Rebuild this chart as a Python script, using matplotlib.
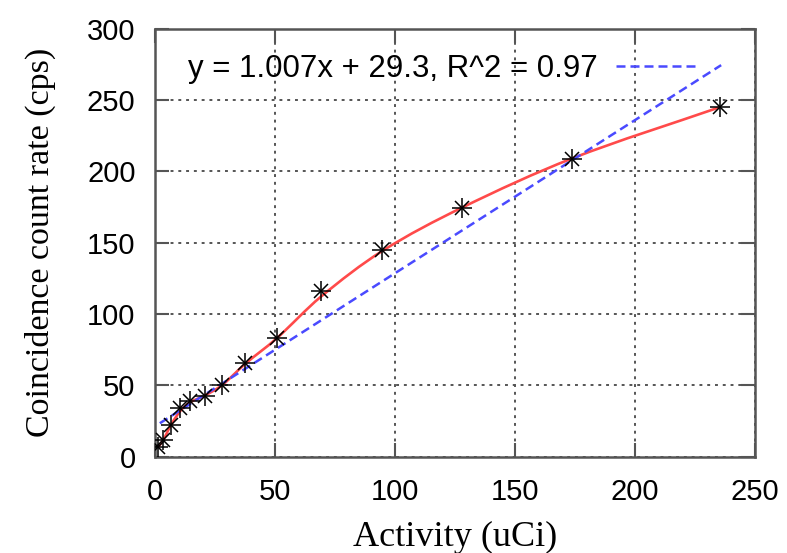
import matplotlib
matplotlib.use("Agg")
import numpy as np
import matplotlib.pyplot as plt
from matplotlib.path import Path
from matplotlib.patches import PathPatch

activity = [1.4, 3.5, 6.7, 10.5, 14.5, 20.8, 28, 37.5, 50.7, 69, 94.5, 127.8, 173.7, 235.4]
count_rate = [7, 12, 22.5, 34, 38.8, 42.5, 50.3, 66, 83, 116.5, 145, 174.5, 209, 245]

# red trend curve, knots (it runs a bit under the 69 point)
curve_x = [1.4, 3.5, 6.7, 10.5, 14.5, 20.8, 28, 37.5, 50.7, 69, 94.5, 127.8, 173.7, 235.4]
curve_y = [7, 12, 22.5, 32, 38, 43, 50.3, 65, 83, 112, 144, 174.5, 209, 245]

# linear fit line, endpoints as drawn
fit_x = [2, 236]
fit_y = [23.5, 274.5]
fit_label = "y = 1.007x + 29.3, R^2 = 0.97"

xticks = [0, 50, 100, 150, 200, 250]
yticks = [0, 50, 100, 150, 200, 250, 300]


def smooth_path(xs, ys):
    # cubic hermite in x through the knots, drawn as bezier segments
    x = np.asarray(xs, float)
    y = np.asarray(ys, float)
    n = len(x)
    m = np.empty(n)
    m[1:-1] = (y[2:] - y[:-2]) / (x[2:] - x[:-2])
    m[0] = (y[1] - y[0]) / (x[1] - x[0])
    m[-1] = (y[-1] - y[-2]) / (x[-1] - x[-2])
    verts = [(x[0], y[0])]
    codes = [Path.MOVETO]
    for i in range(n - 1):
        h = (x[i + 1] - x[i]) / 3
        verts += [(x[i] + h, y[i] + m[i] * h),
                  (x[i + 1] - h, y[i + 1] - m[i + 1] * h),
                  (x[i + 1], y[i + 1])]
        codes += [Path.CURVE4] * 3
    return Path(verts, codes)


fig = plt.figure(figsize=(7.87, 5.53), dpi=100)
ax = fig.add_axes([0.197, 0.174, 0.762, 0.774])

ax.add_patch(PathPatch(smooth_path(curve_x, curve_y), fill=False,
                       ec="#ff4a4a", lw=1.9, zorder=3))
ax.plot(fit_x, fit_y, color="#4a4aff", lw=1.8, dashes=(3.6, 2.0), label=fit_label, zorder=3)
ax.plot(activity, count_rate, ls="none", marker="+", ms=14, mew=1.1, color="black", zorder=4)
ax.plot(activity, count_rate, ls="none", marker="x", ms=10, mew=1.1, color="black", zorder=4)

ax.set_xlim(0, 250)
ax.set_ylim(0, 300)
ax.set_xticks(xticks)
ax.set_yticks(yticks)
ax.grid(True, color="#555555", ls=(0, (1.5, 2.5)), lw=1.4)
ax.tick_params(direction="in", length=10, width=1.5, top=True, right=True,
               labelsize=21, color="#555555")
ax.tick_params(axis="x", pad=15)
ax.tick_params(axis="y", pad=14)
for lab in ax.get_xticklabels() + ax.get_yticklabels():
    lab.set_family("Liberation Sans")
for s in ax.spines.values():
    s.set_color("#555555")
    s.set_linewidth(1.8)

ax.set_xlabel("Activity (uCi)", family="Liberation Serif", fontsize=26, labelpad=11)
ax.set_ylabel("Coincidence count rate (cps)", family="Liberation Serif", fontsize=24.5, labelpad=22)

leg = ax.legend(loc="center right", bbox_to_anchor=(0.929, 0.906), frameon=False,
                markerfirst=False, prop={"family": "Liberation Sans", "size": 22.5},
                handlelength=2.67, borderaxespad=0, borderpad=0.4, handletextpad=0.6)

fig.savefig("out.png", dpi=100)
